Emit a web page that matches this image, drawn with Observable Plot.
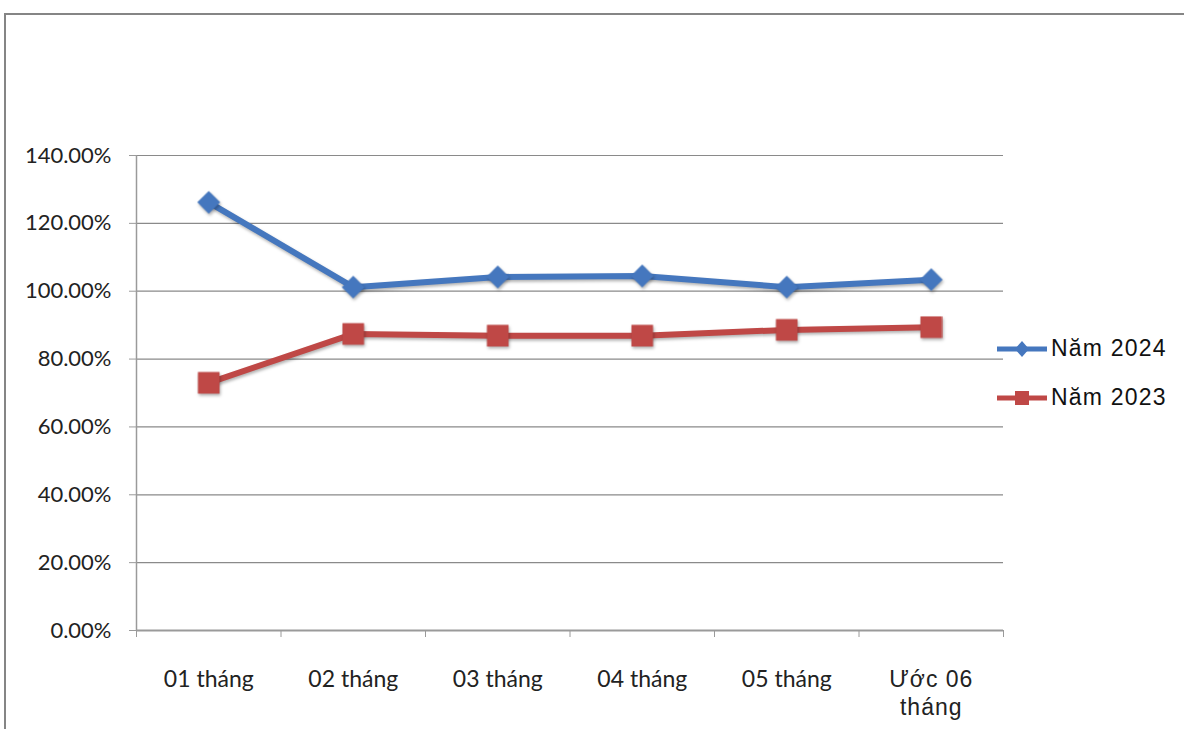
<!DOCTYPE html>
<html>
<head>
<meta charset="utf-8">
<script src="https://cdn.jsdelivr.net/npm/d3@7"></script>
<script src="https://cdn.jsdelivr.net/npm/@observablehq/plot@0.6"></script>
<style>
  html, body { margin: 0; padding: 0; background: #fff; }
  #wrap { position: relative; width: 1184px; height: 729px; overflow: hidden; background: #fff; }
  #frame { position: absolute; left: 4px; top: 13px; right: -4px; bottom: -4px;
           border-top: 2px solid #858585; border-left: 2px solid #858585; }
  #chart { position: absolute; left: 0; top: 0; }
  .legend { position: absolute; left: 996px; display: flex; align-items: center;
            font-family: "Liberation Sans", Arial, sans-serif; font-size: 23px; color: #111;
            letter-spacing: 1.2px; }
  .legend svg { display: block; margin-right: 3px; }
</style>
</head>
<body>
<div id="wrap">
  <div id="frame"></div>
  <div id="chart"></div>
</div>
<script>
// Tỷ lệ thực hiện theo tháng, năm 2024 so với năm 2023
const categories = ["01 tháng", "02 tháng", "03 tháng", "04 tháng", "05 tháng", "Ước 06\ntháng"];
const series = ["Năm 2024", "Năm 2023"];
const nam2024 = [1.262, 1.012, 1.042, 1.045, 1.012, 1.034];
const nam2023 = [0.730, 0.874, 0.869, 0.869, 0.886, 0.894];
const colors = ["#4577BE", "#BF4846"];
const yTicks = [0, 0.2, 0.4, 0.6, 0.8, 1.0, 1.2, 1.4];

const values = { "Năm 2024": nam2024, "Năm 2023": nam2023 };
const rows = series.flatMap(s => categories.map((c, i) => ({ i, category: c, series: s, value: values[s][i] })));
const centers = categories.map((c, i) => i);
const boundaries = d3.range(categories.length + 1).map(i => i - 0.5);

const chart = Plot.plot({
  width: 1184,
  height: 729,
  marginLeft: 136,
  marginRight: 181,
  marginTop: 155,
  marginBottom: 99,
  style: { fontFamily: "Lato, sans-serif", fontSize: "22px", color: "#222", background: "transparent" },
  x: { type: "linear", domain: [-0.5, categories.length - 0.5] },
  y: { domain: [0, 1.4] },
  color: { domain: series, range: colors },
  marks: [
    Plot.gridY(yTicks, { stroke: "#8a8a8a", strokeOpacity: 1, strokeWidth: 1.2 }),
    Plot.ruleX([-0.5], { stroke: "#9a9a9a", strokeWidth: 1.5 }),
    Plot.ruleY([0], { stroke: "#9a9a9a", strokeWidth: 2 }),
    Plot.axisY(yTicks, {
      tickSize: 7, tickPadding: 18, stroke: "#9a9a9a", label: null, fontSize: 22,
      tickFormat: d => (d * 100).toFixed(2) + "%"
    }),
    Plot.axisX(boundaries, { tickSize: 7, tickFormat: () => "", stroke: "#9a9a9a", label: null }),
    Plot.axisX(centers, {
      tickSize: 0, tickPadding: 37, label: null, fontSize: 23, lineHeight: 1.2,
      tickFormat: i => categories[i]
    }),
    Plot.line(rows, { x: "i", y: "value", z: "series", stroke: "series", strokeWidth: 6 }),
    Plot.dot(rows.filter(d => d.series === series[0]), { x: "i", y: "value", fill: "series", symbol: "diamond2", r: 10.3, stroke: "none" }),
    Plot.dot(rows.filter(d => d.series === series[1]), { x: "i", y: "value", fill: "series", symbol: "square", r: 12.2, stroke: "none" })
  ]
});

// soft shadow under the series lines and markers
d3.select(chart).selectAll('g[aria-label="line"], g[aria-label="dot"]')
  .style("filter", "drop-shadow(1px 2px 1.5px rgba(0,0,0,0.3))");

// the estimate label uses a different face
const tickLabels = d3.select(chart).selectAll('g[aria-label="x-axis tick label"] text').nodes();
if (tickLabels.length) {
  d3.select(tickLabels[tickLabels.length - 1])
    .style("font-family", '"Liberation Sans", Arial, sans-serif')
    .style("font-size", "23px")
    .style("letter-spacing", "1px");
}

document.getElementById("chart").appendChild(chart);

// legend to the right of the plot
const wrap = document.getElementById("wrap");
const legendTops = [335, 384];
series.forEach((s, k) => {
  const item = document.createElement("div");
  item.className = "legend";
  item.style.top = legendTops[k] + "px";
  const sym = k === 0
    ? `<path d="M26,4 L33,12 L26,20 L19,12 Z" fill="${colors[k]}"/>`
    : `<rect x="19" y="5" width="14" height="14" fill="${colors[k]}"/>`;
  item.innerHTML = `<svg width="52" height="24"><line x1="1" x2="51" y1="12" y2="12" stroke="${colors[k]}" stroke-width="5"/>${sym}</svg><span>${s}</span>`;
  wrap.appendChild(item);
});
</script>
</body>
</html>
